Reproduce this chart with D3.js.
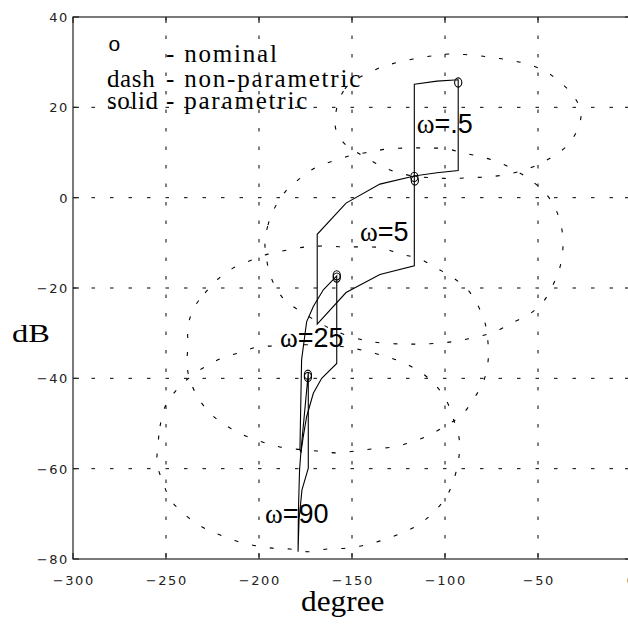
<!DOCTYPE html>
<html><head><meta charset="utf-8">
<script src="https://cdn.jsdelivr.net/npm/d3@7"></script>
<style>
html,body{margin:0;padding:0;background:#fff;}
svg{display:block;}
</style></head><body>
<svg id="chart" width="628" height="635"></svg>
<script>
// Axis ticks (phase in degrees, magnitude in dB)
const degTicks = [-300, -250, -200, -150, -100, -50, 0];
const dbTicks = [-80, -60, -40, -20, 0, 20, 40];

// Nominal loop values [deg, dB]
const nominalPts = [[-92.9, 25.5], [-116.5, 4.6], [-116.2, 3.8], [-158.2, -17.2], [-158.2, -17.7], [-173.7, -39.2], [-173.7, -39.7]];

// Frequency labels and their anchor points [deg, dB]
const freqLabels = [["ω", "=.5"], ["ω", "=5"], ["ω", "=25"], ["ω", "=90"]];
const freqLabelAt = [[-115.2, 14.3], [-145.7, -9.5], [-188.7, -33], [-196.8, -72.1]];

// Parametric uncertainty templates (solid)
const solidW05 = [[-116.5, 25.1], [-104.3, 25.8], [-92.9, 26.1], [-92.9, 6.0], [-104.3, 5.5], [-116.5, 4.8]];
const solidW5 = [[-116.5, 4.8], [-135, 3.0], [-153.2, -1.2], [-168.7, -8.1], [-168.7, -28.0], [-153.2, -21.0], [-135, -17.0], [-116.5, -15.1]];
const solidW25 = [[-158.2, -17.3], [-165.4, -20.4], [-170.8, -24.1], [-174.4, -27.5], [-177.1, -35.9], [-178, -55.9], [-177.4, -56.3], [-176.2, -52.9], [-174.4, -48.5], [-170.8, -43.3], [-166.3, -40], [-158.2, -36.7]];
const solidW90 = [[-173.5, -38.8], [-173.5, -59.9], [-176.9, -64.7], [-178.5, -71.4], [-179, -78.4], [-178.8, -69.2], [-178.2, -60.3], [-177.4, -55.9]];

// Non-parametric uncertainty contours (dashed)
const dashW05 = [[-159.1, 16.1], [-153.8, 24.1], [-136.6, 28.5], [-126.9, 29.8], [-117.2, 30.7], [-107, 31.4], [-97.3, 31.8], [-86.6, 31.6], [-75.8, 31.1], [-66.1, 30.5], [-55.9, 29.6], [-46.2, 28], [-38.2, 25.6], [-31.2, 22.7], [-26.9, 19], [-28.5, 15.4], [-33.9, 11.7], [-42.5, 9], [-51.6, 7], [-60.8, 5.7], [-70.4, 4.9], [-77.4, 4.6], [-87.6, 4.4], [-97.3, 4.25], [-107, 4.4], [-117.2, 4.8], [-128, 5.9], [-137.6, 7.7], [-146.8, 9.9], [-154.8, 12.3]];
const dashW5 = [[-196.8, -10.0], [-195.2, -6.1], [-191.4, -2.1], [-185.5, 1.5], [-178.5, 4.1], [-169.9, 6.6], [-160.2, 8.1], [-150, 9.4], [-140.3, 10.1], [-130.7, 10.8], [-118.8, 11.0], [-109.2, 11.0], [-98.9, 10.8], [-90.3, 9.9], [-80.1, 9.0], [-70.4, 7.7], [-60.8, 5.7], [-52.7, 3.5], [-45.2, 0.6], [-39.8, -3.2], [-37.1, -7.2], [-36.6, -11.1], [-38.2, -15.4], [-41.9, -19.3], [-47.3, -23.1], [-55.4, -26.0], [-64, -27.7], [-73.1, -29.7], [-82.8, -30.8], [-93, -31.7], [-102.7, -32.2], [-113.5, -32.4], [-123.1, -32.4], [-133.9, -32.2], [-144.1, -31.5], [-158, -29.7], [-167.5, -27.7], [-182, -24.0], [-187.6, -22], [-193, -18.2], [-195.7, -14.2]];
const dashW25 = [[-235, -24.4], [-229, -21.1], [-222, -18], [-214, -15.6], [-203.8, -13.8], [-195.2, -12.5], [-185, -11.6], [-174.7, -10.9], [-164.5, -10.7], [-154.8, -10.9], [-144.6, -10.9], [-133.9, -11.1], [-124.2, -12.5], [-114.5, -13.4], [-105.4, -15.4], [-96.2, -17.6], [-88.2, -20.2], [-82.8, -23.5], [-78.5, -27.7], [-76.9, -32], [-76.9, -36.4], [-79.6, -41], [-85, -44.8], [-90.9, -48.1], [-98.9, -50.3], [-108.1, -52.5], [-117.8, -54.1], [-128, -55.2], [-138.7, -55.6], [-148.4, -56.1], [-158.1, -56.5], [-168.8, -56.1], [-188.7, -55.2], [-199.5, -53.9], [-208.6, -52.5], [-217.2, -50.6], [-225.3, -48.1], [-232.3, -44.6], [-237.1, -40.4], [-238.7, -37], [-238.2, -32.6], [-238.2, -28.6]];
const dashW90 = [[-254.3, -54.8], [-253.2, -50.6], [-250.5, -46.3], [-245.2, -43], [-238.2, -40.1], [-230.1, -37.7], [-221, -35.7], [-211.3, -34.4], [-201.1, -33.1], [-190.3, -32.8], [-179.6, -32.6], [-168.8, -32.6], [-159.1, -32.8], [-150, -33.3], [-140.3, -34.2], [-130.7, -35.3], [-121, -36.8], [-111.8, -39], [-104.3, -41.9], [-98.9, -45.2], [-95.7, -48.8], [-92.5, -53], [-92.5, -57.4], [-95.7, -63], [-100, -66.7], [-106.5, -69.8], [-114.5, -72.5], [-123.1, -74.2], [-133.3, -75.8], [-143, -76.9], [-152.7, -77.6], [-163.4, -77.8], [-173.7, -78.4], [-183.3, -77.8], [-193, -77.6], [-203.8, -76.9], [-214, -75.8], [-223.7, -74.2], [-232.3, -72.5], [-240.9, -69.8], [-247.9, -66.7], [-251.6, -63], [-254.8, -59]];

// Legend rows: key and description
const legendKeys = ["", "dash", "solid"];
const legendDescs = ["- nominal", "- non-parametric", "- parametric"];

const svg = d3.select("#chart");
const x = d3.scaleLinear().domain([-300, 0]).range([73, 631]);
const y = d3.scaleLinear().domain([-80, 40]).range([559, 17]);

const plot = svg.append("g");

// grid
const gridStyle = g => g.attr("stroke", "#000").attr("stroke-width", 1)
  .attr("stroke-dasharray", "3.5,15").attr("fill", "none");
plot.append("g").call(gridStyle).selectAll("line")
  .data(degTicks.slice(1, -1)).join("line")
  .attr("x1", d => x(d)).attr("x2", d => x(d))
  .attr("y1", y(40)).attr("y2", y(-80));
plot.append("g").call(gridStyle).selectAll("line")
  .data(dbTicks.slice(1, -1)).join("line")
  .attr("y1", d => y(d)).attr("y2", d => y(d))
  .attr("x1", x(-300)).attr("x2", x(0));

// non-parametric contours
const contour = d3.line().x(d => x(d[0])).y(d => y(d[1])).curve(d3.curveCatmullRomClosed.alpha(0.5));
plot.append("g").selectAll("path")
  .data([dashW05, dashW5, dashW25, dashW90]).join("path")
  .attr("d", contour)
  .attr("fill", "none").attr("stroke", "#000").attr("stroke-width", 1.1)
  .attr("stroke-dasharray", "4,14");

// parametric templates
const poly = d3.line().x(d => x(d[0])).y(d => y(d[1])).curve(d3.curveLinearClosed);
plot.append("g").selectAll("path")
  .data([solidW05, solidW5, solidW25, solidW90]).join("path")
  .attr("d", poly)
  .attr("fill", "none").attr("stroke", "#000").attr("stroke-width", 1.1)
  .attr("stroke-linejoin", "miter");

// nominal markers
plot.append("g").selectAll("ellipse")
  .data(nominalPts).join("ellipse")
  .attr("cx", d => x(d[0])).attr("cy", d => y(d[1]))
  .attr("rx", 3.6).attr("ry", 4.6)
  .attr("fill", "none").attr("stroke", "#000").attr("stroke-width", 1.1);

// frequency labels
const fl = plot.append("g").selectAll("text")
  .data(freqLabels).join("text")
  .attr("x", (d, i) => x(freqLabelAt[i][0]))
  .attr("y", (d, i) => y(freqLabelAt[i][1]))
  .attr("font-size", 27).attr("fill", "#000");
fl.append("tspan").attr("font-family", "'Liberation Serif', serif").text(d => d[0]);
fl.append("tspan").attr("font-family", "'Liberation Sans', Arial, sans-serif").text(d => d[1]);

// axes frame
const frame = svg.append("g").attr("stroke", "#222").attr("stroke-width", 1.2).attr("fill", "none");
frame.append("rect").attr("x", x(-300)).attr("y", y(40))
  .attr("width", x(0) - x(-300)).attr("height", y(-80) - y(40));

// inward ticks on all sides
const tickLen = 6;
const tk = svg.append("g").attr("stroke", "#222").attr("stroke-width", 1.2);
degTicks.forEach(d => {
  tk.append("line").attr("x1", x(d)).attr("x2", x(d)).attr("y1", y(-80)).attr("y2", y(-80) - tickLen);
  tk.append("line").attr("x1", x(d)).attr("x2", x(d)).attr("y1", y(40)).attr("y2", y(40) + tickLen);
});
dbTicks.forEach(d => {
  tk.append("line").attr("y1", y(d)).attr("y2", y(d)).attr("x1", x(-300)).attr("x2", x(-300) + tickLen);
  tk.append("line").attr("y1", y(d)).attr("y2", y(d)).attr("x1", x(0)).attr("x2", x(0) - tickLen);
});

// tick labels
const fmt = d3.format("d");
const tickFont = "'DejaVu Sans', sans-serif";
svg.append("g").selectAll("text").data(degTicks).join("text")
  .attr("x", d => x(d) + 0.8).attr("y", y(-80) + 26)
  .attr("text-anchor", "middle")
  .attr("font-family", tickFont).attr("font-size", 13)
  .attr("letter-spacing", 1.6).attr("fill", "#222")
  .text(d => fmt(d));
svg.append("g").selectAll("text").data(dbTicks).join("text")
  .attr("x", x(-300) - 4).attr("y", d => y(d) + 5)
  .attr("text-anchor", "end")
  .attr("font-family", tickFont).attr("font-size", 13)
  .attr("letter-spacing", 1.6).attr("fill", "#222")
  .text(d => fmt(d));

// axis titles
svg.append("text")
  .attr("transform", "translate(12,342) scale(1.3,1)")
  .attr("font-family", "'Liberation Serif', serif").attr("font-size", 25)
  .attr("fill", "#000").text("dB");
svg.append("text")
  .attr("transform", "translate(301,611) scale(1.08,1)")
  .attr("font-family", "'Liberation Serif', serif").attr("font-size", 29)
  .attr("fill", "#000").text("degree");

// legend
const lg = svg.append("g").attr("font-family", "'Liberation Serif', serif")
  .attr("font-size", 25).attr("fill", "#000");
const rowY = [61.7, 87, 108.5];
lg.selectAll("text.key").data(legendKeys).join("text").attr("class", "key")
  .attr("x", 107).attr("y", (d, i) => rowY[i]).attr("letter-spacing", 0.6).text(d => d);
lg.selectAll("text.desc").data(legendDescs).join("text").attr("class", "desc")
  .attr("x", 166).attr("y", (d, i) => rowY[i]).attr("letter-spacing", 1.8).text(d => d);
svg.append("text").attr("x", 108.5).attr("y", 51)
  .attr("font-family", "'Liberation Sans', Arial, sans-serif")
  .attr("font-size", 21).attr("fill", "#000").text("o");
</script>
</body></html>
